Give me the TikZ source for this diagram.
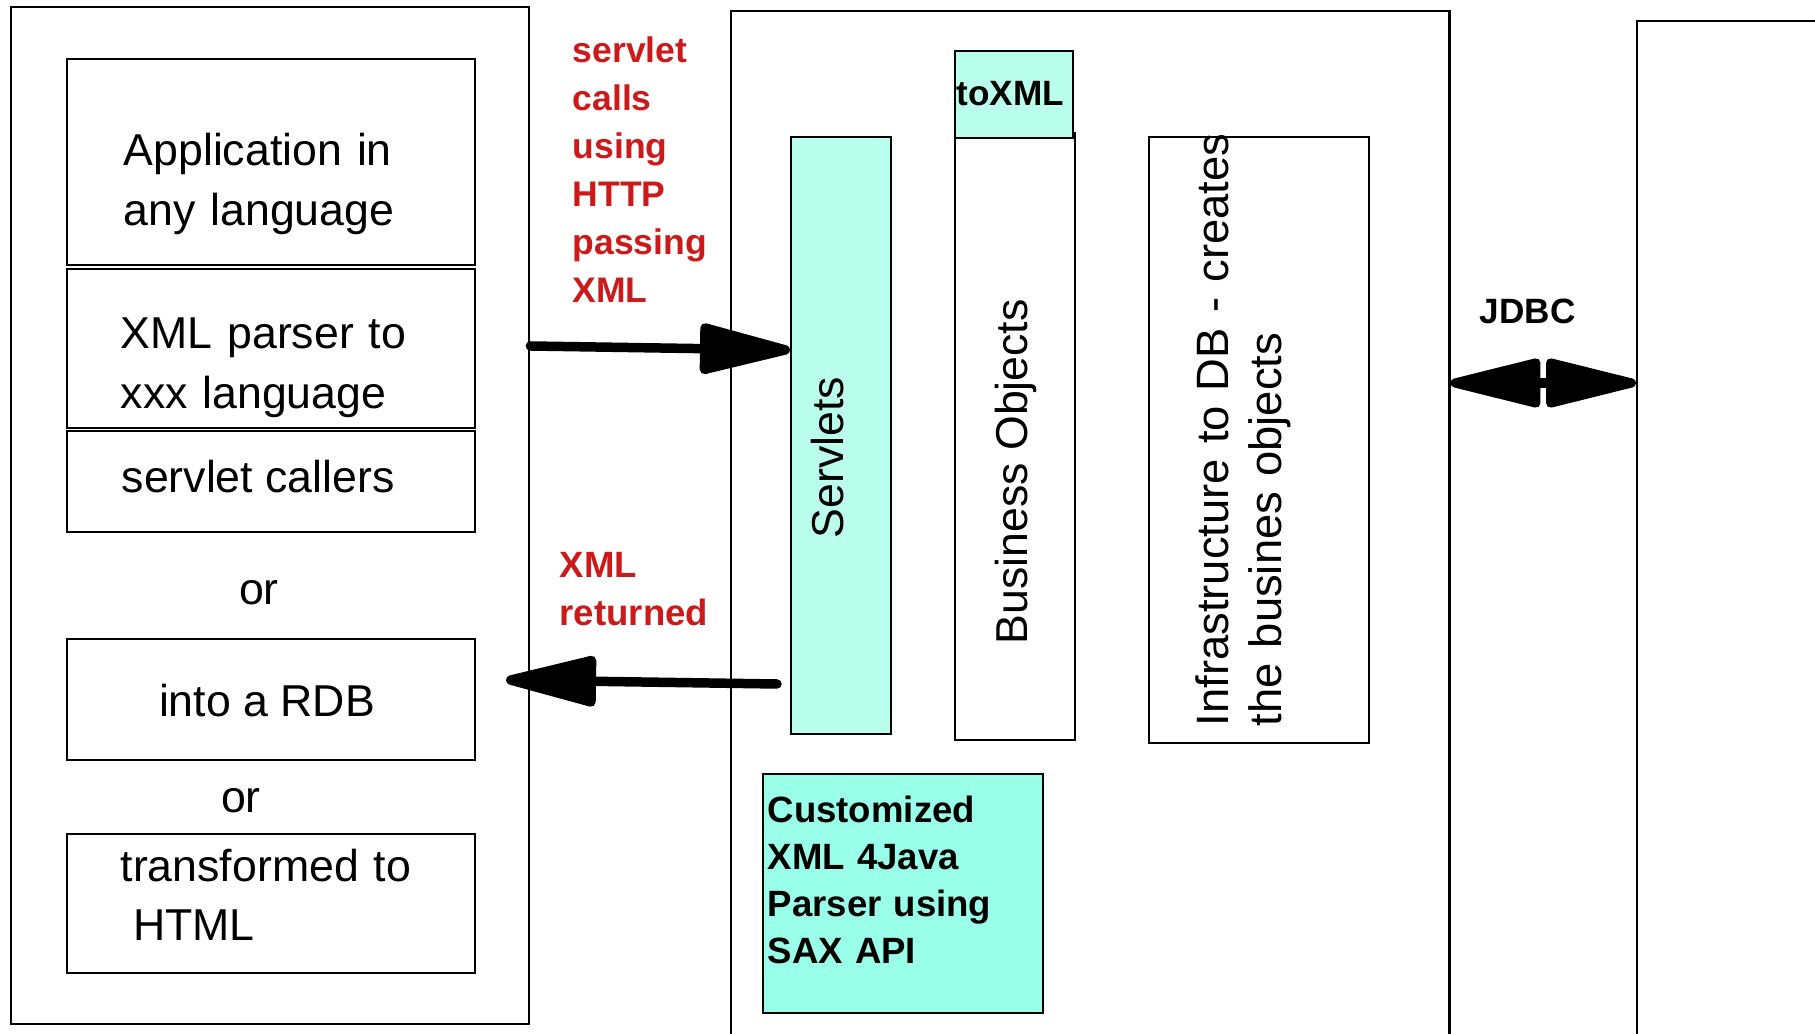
\documentclass[tikz,border=0pt]{standalone}
\usepackage{fontspec}
\setmainfont{Liberation Sans}
\usetikzlibrary{arrows.meta}

\definecolor{mint}{RGB}{186,255,235}
\definecolor{aqua}{RGB}{153,255,232}
\definecolor{callred}{RGB}{204,26,26}

\tikzset{
	panel/.style={draw, line width=0.6pt, inner sep=0pt, anchor=north west},
	plain/.style={inner sep=0pt, anchor=base west, font=\fontsize{12.7}{17}\selectfont},
	lines/.style={plain, text width=#1, align=left},
	tag/.style={inner sep=0pt, anchor=base west, font=\fontsize{10.1}{13.6}\selectfont\bfseries},
	flow/.style={line width=2.7pt, line cap=round, -{Triangle[round,length=30pt,width=14.5pt]}},
	both/.style={line width=2.6pt, {Triangle[round,length=30pt,width=14pt]}-{Triangle[round,length=30pt,width=14pt]}}
}

\begin{document}
\begin{tikzpicture}[x=0.01cm, y=-0.01cm]
	\useasboundingbox (0,0) rectangle (1815,1034);
	\clip (0,0) rectangle (1815,1034);
	% client side
	\node[panel, minimum width=5.18cm, minimum height=10.16cm] (client) at (10,6) {};
	\node[panel, minimum width=4.08cm, minimum height=2.06cm] (app) at (66,58) {};
	\node[panel, minimum width=4.08cm, minimum height=1.59cm] (parser) at (66,268) {};
	\node[panel, minimum width=4.08cm, minimum height=1.01cm] (callers) at (66,430) {};
	\node[panel, minimum width=4.08cm, minimum height=1.21cm] (rdb) at (66,638) {};
	\node[panel, minimum width=4.08cm, minimum height=1.39cm] (html) at (66,833) {};
	\node[lines=4cm] (apptext) at (123,166) {Application in\\any language};
	\node[lines=4cm] (parsertext) at (120,349) {XML parser to\\xxx language};
	\node[plain] (callertext) at (121,493) {servlet callers};
	\node[plain, anchor=base] (or1) at (259,605) {or};
	\node[plain, anchor=base] (rdbtext) at (267,717) {into a RDB};
	\node[plain, anchor=base] (or2) at (241,813) {or};
	\node[lines=4cm] (htmltext) at (120,881) {transformed to\\\hspace*{0.28em}HTML};
	% servlet engine
	\node[panel, minimum width=7.18cm, minimum height=11cm] (server) at (730,10) {};
	\node[panel, fill=mint, minimum width=1cm, minimum height=5.97cm] (servlets) at (790,136) {};
	\node[panel, minimum width=1.2cm, minimum height=6.07cm] (busobj) at (954,132) {};
	\node[panel, fill=mint, minimum width=1.18cm, minimum height=0.87cm] (toxml) at (954,50) {};
	\node[panel, minimum width=2.2cm, minimum height=6.06cm] (infra) at (1148,136) {};
	\node[panel, fill=aqua, minimum width=2.8cm, minimum height=2.39cm] (sax) at (762,773) {};
	\node[plain, rotate=90] (servletstext) at (843,539) {Servlets};
	\node[plain, rotate=90] (busobjtext) at (1027,645) {Business Objects};
	\node[lines=7cm, rotate=90, font=\fontsize{12.9}{15.1}\selectfont] (infratext) at (1228,727) {Infrastructure to DB - creates\\the busines objects};
	\node[tag, font=\fontsize{10}{12}\selectfont\bfseries] (toxmltext) at (956,106) {toXML};
	\node[tag, text width=3cm, align=left, font=\fontsize{10.4}{13.4}\selectfont\bfseries] (saxtext) at (767,822) {Customized\\XML 4Java\\Parser using\\SAX API};
	% database
	\node[panel, minimum width=3cm, minimum height=11cm] (rdbms) at (1636,20) {};
	\node[tag, font=\fontsize{10}{12}\selectfont\bfseries] (jdbctext) at (1479,324) {JDBC};
	% calls and replies
	\node[tag, text=callred, text width=2cm, align=left] (calltext) at (572,63) {servlet\\calls\\using\\HTTP\\passing\\XML};
	\node[tag, text=callred, text width=2cm, align=left, font=\fontsize{10.4}{13.4}\selectfont\bfseries] (returntext) at (559,578) {XML\\returned};
	\coordinate (retstart) at (777,684);
	\coordinate (retend) at (506,680);
	\draw[flow] (client.east |- 0,346) -- (servlets.west |- 0,350);
	\draw[flow] (retstart) -- (retend);
	\draw[both] (server.east |- 0,383) -- (rdbms.west |- 0,383);
\end{tikzpicture}
\end{document}
